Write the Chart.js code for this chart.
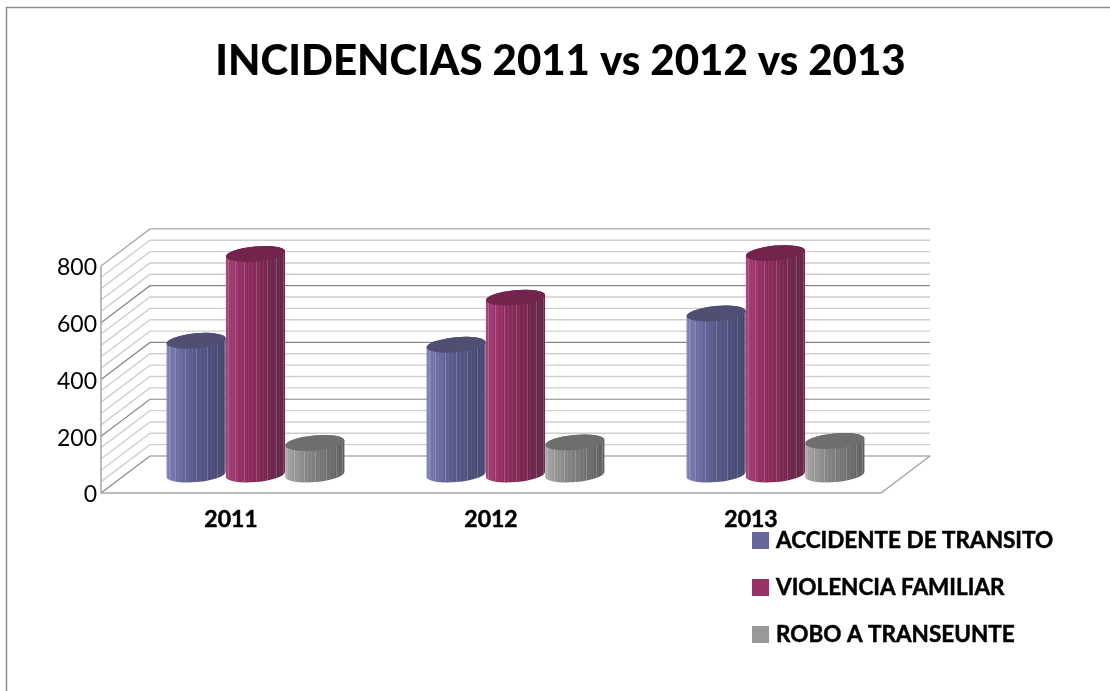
<!DOCTYPE html>
<html lang="es">
<head>
<meta charset="utf-8">
<title>Incidencias 2011 vs 2012 vs 2013</title>
<script src="https://cdn.jsdelivr.net/npm/chart.js@4/dist/chart.umd.min.js"></script>
<style>
  html, body { margin: 0; padding: 0; background: #fff; }
  canvas { display: block; }
</style>
</head>
<body>
<canvas id="incidenciasChart" width="1110" height="691"></canvas>
<script>
const anios = ['2011', '2012', '2013'];
const accidenteTransito = [471, 457, 567];
const violenciaFamiliar = [777, 623, 780];
const roboTranseunte = [111, 113, 118];

const FONT = 'Lato, Carlito, "Open Sans", sans-serif';
const DEPTH_X = 49;   // fondo de la caja 3D
const DEPTH_Y = 37;

// colores de cada cilindro: claro, medio, oscuro, tapa
const tonos = [
  ['#7c7cb2', '#5c5c90', '#42446a', '#4f4f74'],
  ['#a43a72', '#8a2a5a', '#5e2446', '#72244c'],
  ['#a4a4a4', '#848484', '#5e5e5e', '#6e6e6e'],
];

// paredes y piso en perspectiva, a partir de la escala y
const cajaPlugin = {
  id: 'caja3d',
  beforeDraw(chart) {
    const { ctx, chartArea, scales } = chart;
    const { left, right, bottom } = chartArea;

    ctx.save();
    // marco de la diapositiva
    ctx.strokeStyle = '#8c8c8c';
    ctx.lineWidth = 1.5;
    ctx.beginPath();
    ctx.moveTo(1110, 7.5);
    ctx.lineTo(6.5, 7.5);
    ctx.lineTo(6.5, 691);
    ctx.stroke();

    scales.y.ticks.forEach((tick) => {
      const y = scales.y.getPixelForValue(tick.value);
      const mayor = tick.value % 200 === 0;
      ctx.lineWidth = mayor ? 1.2 : 1.4;
      ctx.strokeStyle = mayor ? '#868686' : '#cfcfcf';
      if (tick.value === 800) ctx.strokeStyle = '#a6a6a6';
      ctx.beginPath();
      ctx.moveTo(left, y);
      ctx.lineTo(left + DEPTH_X, y - DEPTH_Y);
      ctx.lineTo(right + DEPTH_X, y - DEPTH_Y);
      ctx.stroke();
    });

    // eje izquierdo, frente del piso y diagonal derecha
    ctx.strokeStyle = '#a6a6a6';
    ctx.lineWidth = 1.5;
    ctx.beginPath();
    ctx.moveTo(left, scales.y.top);
    ctx.lineTo(left, bottom);
    ctx.lineTo(right, bottom);
    ctx.lineTo(right + DEPTH_X, bottom - DEPTH_Y);
    ctx.stroke();
    ctx.restore();
  },
  // los cilindros salen de los elementos de barra, centrados en el fondo
  beforeDatasetsDraw(chart) {
    chart.data.datasets.forEach((ds, i) => {
      chart.getDatasetMeta(i).data.forEach((bar) => {
        dibujarCilindro(chart.ctx, bar, tonos[i]);
      });
    });
  },
  beforeDatasetDraw() {
    return false;
  },
  // leyenda manual, abajo a la derecha
  afterDraw(chart) {
    const { ctx } = chart;
    ctx.save();
    ctx.font = 'bold 22.5px ' + FONT;
    ctx.textBaseline = 'middle';
    ctx.lineWidth = 0.5;
    chart.data.datasets.forEach((ds, i) => {
      const y = 532 + i * 47;
      ctx.fillStyle = ds.backgroundColor;
      ctx.fillRect(752, y, 17, 17);
      ctx.fillStyle = '#000';
      ctx.strokeStyle = '#000';
      ctx.fillText(ds.label, 776, y + 8.5);
      ctx.strokeText(ds.label, 776, y + 8.5);
    });
    ctx.restore();
  },
};

function dibujarCilindro(ctx, bar, tono) {
  const cx = bar.x + DEPTH_X / 2;
  const top = bar.y - DEPTH_Y / 2;
  const base = bar.base - DEPTH_Y / 2;
  const rx = bar.width / 2;
  const ry = 7.5;
  const rot = -0.09;

  const grad = ctx.createLinearGradient(cx - rx, 0, cx + rx, 0);
  grad.addColorStop(0, tono[0]);
  grad.addColorStop(0.4, tono[1]);
  grad.addColorStop(1, tono[2]);

  const cuerpo = () => {
    ctx.beginPath();
    ctx.ellipse(cx, base, rx, ry, rot, Math.PI, 0, true);
    ctx.ellipse(cx, top, rx, ry, rot, 0, Math.PI, true);
    ctx.closePath();
  };

  ctx.save();
  cuerpo();
  ctx.fillStyle = grad;
  ctx.fill();

  // facetas verticales del cilindro
  ctx.clip();
  ctx.lineWidth = 1;
  for (let k = 1; k < 24; k++) {
    const x = Math.round(cx - rx * Math.cos((k * Math.PI) / 24)) + 0.5;
    ctx.strokeStyle = k % 3 === 0 ? 'rgba(255,255,255,0.2)' : 'rgba(255,255,255,0.06)';
    ctx.beginPath();
    ctx.moveTo(x, top - ry - 2);
    ctx.lineTo(x, base + ry + 2);
    ctx.stroke();
  }
  ctx.restore();

  // tapa
  ctx.save();
  ctx.beginPath();
  ctx.ellipse(cx, top, rx, ry, rot, 0, Math.PI * 2);
  ctx.fillStyle = tono[3];
  ctx.fill();
  ctx.restore();
}

new Chart(document.getElementById('incidenciasChart'), {
  type: 'bar',
  data: {
    labels: anios,
    datasets: [
      { label: 'ACCIDENTE DE TRANSITO', data: accidenteTransito, backgroundColor: '#666699' },
      { label: 'VIOLENCIA FAMILIAR', data: violenciaFamiliar, backgroundColor: '#993366' },
      { label: 'ROBO A TRANSEUNTE', data: roboTranseunte, backgroundColor: '#999999' },
    ],
  },
  options: {
    responsive: false,
    animation: false,
    categoryPercentage: 0.685,
    barPercentage: 1,
    layout: { padding: { left: 11 } },
    plugins: {
      legend: { display: false },
      tooltip: { enabled: false },
      title: {
        display: true,
        text: 'INCIDENCIAS 2011 vs 2012 vs 2013',
        color: '#000',
        font: { family: FONT, size: 42, weight: 900, lineHeight: 1.2 },
        padding: { top: 36.5, bottom: 179 },
      },
    },
    scales: {
      x: {
        grid: { display: false, drawTicks: false },
        border: { display: false },
        ticks: {
          color: '#000',
          padding: 13,
          textStrokeColor: '#000',
          textStrokeWidth: 0.5,
          font: { family: FONT, size: 23, weight: 'bold' },
        },
        afterFit(scale) { scale.height = 198; },
      },
      y: {
        min: 0,
        max: 800,
        grid: { display: false, drawTicks: false },
        border: { display: false },
        ticks: {
          stepSize: 40,
          autoSkip: false,
          padding: 4,
          labelOffset: 2,
          color: '#000',
          font: { family: FONT, size: 23 },
          callback: (value) => (value % 200 === 0 ? value : ''),
        },
        afterFit(scale) { scale.width = 90; },
      },
      // solo reserva el espacio a la derecha del grafico
      reserva: {
        position: 'right',
        grid: { display: false, drawTicks: false },
        border: { display: false },
        ticks: { display: false },
        afterFit(scale) { scale.width = 229; },
      },
    },
  },
  plugins: [cajaPlugin],
});
</script>
</body>
</html>
